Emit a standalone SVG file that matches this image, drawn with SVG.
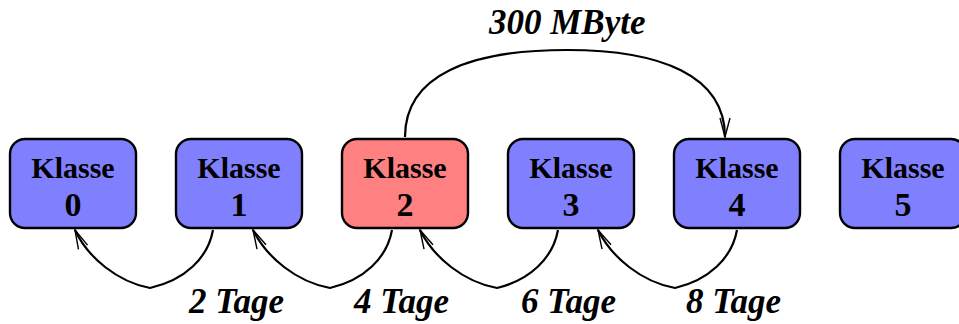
<svg xmlns="http://www.w3.org/2000/svg" width="959" height="324" viewBox="0 0 959 324">
<style>
  .box { stroke: #000; stroke-width: 2.4; }
  .blue { fill: #8080ff; }
  .red { fill: #ff8080; }
  .kl { font-family: "Liberation Serif", "Times New Roman", serif; font-weight: bold; font-size: 30px; text-anchor: middle; fill: #000; }
  .num { font-family: "Liberation Serif", "Times New Roman", serif; font-weight: bold; font-size: 34px; text-anchor: middle; fill: #000; }
  .lbl { font-family: "Liberation Serif", "Times New Roman", serif; font-weight: bold; font-style: italic; font-size: 35px; fill: #000; }
  .edge { fill: none; stroke: #000; stroke-width: 2.2; }
</style>
<defs>
  <marker id="arr" markerUnits="userSpaceOnUse" markerWidth="24" markerHeight="14" viewBox="-20 -7 24 14" refX="0" refY="0" orient="auto">
    <path d="M-19,-5 L0,0 L-19,5" fill="none" stroke="#000" stroke-width="1.4"/>
  </marker>
</defs>
<rect width="959" height="324" fill="#fff"/>
<g id="klasse0"><rect class="box blue" x="10" y="139" width="126" height="89" rx="15"/><text class="kl" x="73" y="178">Klasse</text><text class="num" x="73" y="216">0</text></g>
<g id="klasse1"><rect class="box blue" x="176" y="139" width="126" height="89" rx="15"/><text class="kl" x="239" y="178">Klasse</text><text class="num" x="239" y="216">1</text></g>
<g id="klasse2"><rect class="box red" x="342" y="139" width="126" height="89" rx="15"/><text class="kl" x="405" y="178">Klasse</text><text class="num" x="405" y="216">2</text></g>
<g id="klasse3"><rect class="box blue" x="508" y="139" width="126" height="89" rx="15"/><text class="kl" x="571" y="178">Klasse</text><text class="num" x="571" y="216">3</text></g>
<g id="klasse4"><rect class="box blue" x="674" y="139" width="126" height="89" rx="15"/><text class="kl" x="737" y="178">Klasse</text><text class="num" x="737" y="216">4</text></g>
<g id="klasse5"><rect class="box blue" x="840" y="139" width="126" height="89" rx="15"/><text class="kl" x="903" y="178">Klasse</text><text class="num" x="903" y="216">5</text></g>
<g id="connectors">
  <path class="edge" marker-end="url(#arr)" d="M213,230 C208,258 185,280 150,288 C118,282 88,258 75,230"/>
  <path class="edge" marker-end="url(#arr)" d="M392,230 C387,258 364,280 330,288 C297,282 267,258 253,230"/>
  <path class="edge" marker-end="url(#arr)" d="M558,230 C553,258 530,280 497,288 C464,282 434,258 420,230"/>
  <path class="edge" marker-end="url(#arr)" d="M737,230 C732,258 709,280 675,288 C642,282 612,258 598,230"/>
  <path class="edge" marker-end="url(#arr)" d="M405,137 C405,75 470,50 567,50 C660,50 725,75 725,137"/>
  <text class="lbl" x="189" y="313">2 Tage</text>
  <text class="lbl" x="354" y="313">4 Tage</text>
  <text class="lbl" x="521" y="313">6 Tage</text>
  <text class="lbl" x="686" y="313">8 Tage</text>
  <text class="lbl" x="489" y="34">300 MByte</text>
</g>
</svg>
